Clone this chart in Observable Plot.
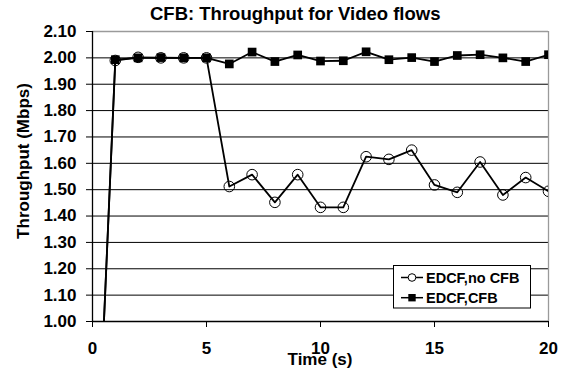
<!DOCTYPE html>
<html><head><meta charset="utf-8">
<script src="https://cdn.jsdelivr.net/npm/d3@7"></script>
<script src="https://cdn.jsdelivr.net/npm/@observablehq/plot@0.6"></script>
<style>
body{margin:0;background:#fff}
#chart{position:relative;width:569px;height:372px}
</style>
</head><body><div id="chart"></div>
<script>
const titleText = "CFB: Throughput for Video flows";
const xLabel = "Time (s)";
const yLabel = "Throughput (Mbps)";
const seriesNames = ["EDCF,no CFB", "EDCF,CFB"];
const times = [0, 1, 2, 3, 4, 5, 6, 7, 8, 9, 10, 11, 12, 13, 14, 15, 16, 17, 18, 19, 20];
const noCfb = [0, 1.990, 2.002, 2.000, 2.000, 2.000, 1.512, 1.557, 1.452, 1.557, 1.433, 1.433, 1.625, 1.615, 1.650, 1.518, 1.490, 1.605, 1.480, 1.546, 1.494];
const cfb = [0, 1.993, 2.000, 2.001, 2.000, 2.000, 1.977, 2.022, 1.986, 2.011, 1.988, 1.989, 2.023, 1.993, 2.001, 1.986, 2.009, 2.012, 2.000, 1.986, 2.012];
const xTicks = [0, 5, 10, 15, 20];
const yTicks = [1.0, 1.1, 1.2, 1.3, 1.4, 1.5, 1.6, 1.7, 1.8, 1.9, 2.0, 2.1];
const yGrid = [1.1, 1.2, 1.3, 1.4, 1.5, 1.6, 1.7, 1.8, 1.9, 2.0];

const rows = [];
times.forEach((t, i) => {
  rows.push({t, v: noCfb[i], s: seriesNames[0]});
  rows.push({t, v: cfb[i], s: seriesNames[1]});
});
const rowsA = rows.filter(d => d.s === seriesNames[0]);
const rowsB = rows.filter(d => d.s === seriesNames[1]);

const FONT = "'Liberation Sans', Arial, sans-serif";

const plot = Plot.plot({
  width: 569, height: 372,
  marginLeft: 92, marginRight: 21, marginTop: 31, marginBottom: 51,
  style: {fontFamily: FONT, fontWeight: "bold", fontSize: "17px", color: "#000", background: "#fff", overflow: "visible"},
  x: {domain: [0, 20], label: null},
  y: {domain: [1, 2.1], label: null},
  marks: [
    Plot.ruleY(yGrid, {stroke: "#000", strokeWidth: 1}),
    Plot.ruleY([2.1], {stroke: "#9a9a9a", strokeWidth: 1.3}),
    Plot.ruleX([20], {stroke: "#9a9a9a", strokeWidth: 1.3}),
    Plot.axisY({ticks: yTicks, tickFormat: d3.format(".2f"), tickSize: 6, tickPadding: 10, label: null}),
    Plot.axisX({ticks: xTicks, tickFormat: d3.format("d"), tickSize: 6, tickPadding: 14, label: null}),
    Plot.ruleX([0], {stroke: "#000", strokeWidth: 1.3}),
    Plot.ruleY([1], {stroke: "#000", strokeWidth: 1.3}),
    Plot.line(rows, {x: "t", y: "v", z: "s", stroke: "#000", strokeWidth: 1.8, clip: true}),
    Plot.dot(rowsA, {x: "t", y: "v", r: 5.3, stroke: "#000", strokeWidth: 1, fill: "none", clip: true}),
    Plot.dot(rowsB, {x: "t", y: "v", symbol: "square", r: 4.9, fill: "#000", stroke: "none", clip: true})
  ]
});

document.getElementById("chart").appendChild(plot);
const svg = d3.select(plot);

// title
svg.append("text").attr("x", 150).attr("y", 20)
  .attr("font-family", FONT).attr("font-weight", "bold").attr("font-size", "18.5px")
  .attr("text-anchor", "start").attr("fill", "#000").text(titleText);
// y label
svg.append("text").attr("transform", "translate(29,161) rotate(-90)")
  .attr("font-family", FONT).attr("font-weight", "bold").attr("font-size", "17px")
  .attr("text-anchor", "middle").attr("fill", "#000").text(yLabel);
// x label
svg.append("text").attr("x", 320).attr("y", 365)
  .attr("font-family", FONT).attr("font-weight", "bold").attr("font-size", "17px")
  .attr("text-anchor", "middle").attr("fill", "#000").text(xLabel);

// legend
const lg = svg.append("g").attr("font-family", FONT).attr("font-weight", "bold").attr("font-size", "14.5px");
lg.append("rect").attr("x", 393.5).attr("y", 265.5).attr("width", 137).attr("height", 42.5)
  .attr("fill", "#fff").attr("stroke", "#000").attr("stroke-width", 1);
const lrows = [{name: seriesNames[0], y: 277.5, sym: "circle"}, {name: seriesNames[1], y: 297.7, sym: "square"}];
lrows.forEach(r => {
  lg.append("line").attr("x1", 401).attr("x2", 423).attr("y1", r.y).attr("y2", r.y)
    .attr("stroke", "#000").attr("stroke-width", 1.5);
  if (r.sym === "circle") {
    lg.append("circle").attr("cx", 412).attr("cy", r.y).attr("r", 3.8)
      .attr("fill", "#fff").attr("stroke", "#000").attr("stroke-width", 1);
  } else {
    lg.append("rect").attr("x", 408.3).attr("y", r.y - 3.7).attr("width", 7.4).attr("height", 7.4).attr("fill", "#000");
  }
  lg.append("text").attr("x", 426).attr("y", r.y + 5).attr("text-anchor", "start").attr("fill", "#000").text(r.name);
});
</script>
</body></html>
